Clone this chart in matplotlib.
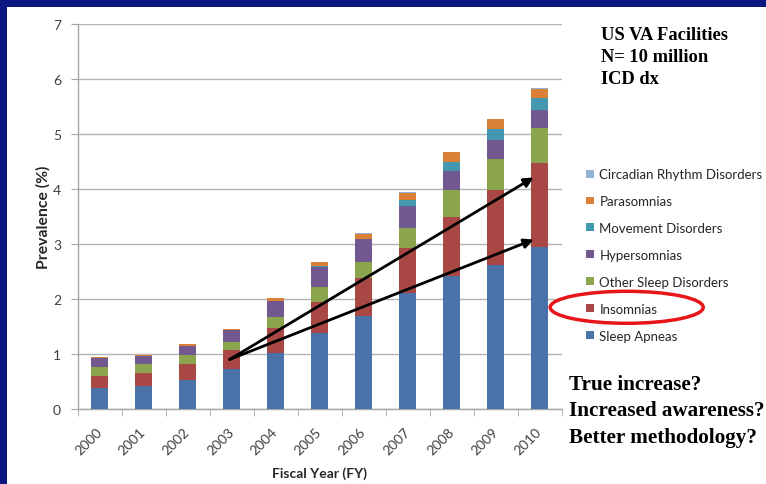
import numpy as np
import matplotlib
matplotlib.use("Agg")
import matplotlib.pyplot as plt
from matplotlib.patches import Rectangle, Ellipse, Patch

plt.rcParams['font.family'] = ['Lato', 'DejaVu Sans']

years = ["2000", "2001", "2002", "2003", "2004", "2005",
         "2006", "2007", "2008", "2009", "2010"]

# prevalence (%) per category, bottom to top of the stack
sleep_apneas = [0.38, 0.41, 0.53, 0.73, 1.02, 1.39, 1.70, 2.11, 2.41, 2.62, 2.95]
insomnias = [0.22, 0.24, 0.29, 0.34, 0.46, 0.56, 0.68, 0.82, 1.08, 1.36, 1.52]
other_sleep = [0.16, 0.16, 0.17, 0.15, 0.19, 0.26, 0.29, 0.36, 0.49, 0.57, 0.64]
hypersomnias = [0.17, 0.16, 0.16, 0.21, 0.29, 0.38, 0.42, 0.41, 0.35, 0.35, 0.33]
movement = [0.00, 0.00, 0.00, 0.00, 0.00, 0.01, 0.01, 0.10, 0.17, 0.20, 0.21]
parasomnias = [0.02, 0.02, 0.03, 0.02, 0.05, 0.07, 0.09, 0.13, 0.17, 0.17, 0.17]
circadian = [0.00, 0.00, 0.00, 0.00, 0.00, 0.00, 0.01, 0.01, 0.01, 0.01, 0.01]

series = [
    ("Sleep Apneas", sleep_apneas, "#4A72A8"),
    ("Insomnias", insomnias, "#A94744"),
    ("Other Sleep Disorders", other_sleep, "#8BA54F"),
    ("Hypersomnias", hypersomnias, "#71588F"),
    ("Movement Disorders", movement, "#4198AF"),
    ("Parasomnias", parasomnias, "#DA8137"),
    ("Circadian Rhythm Disorders", circadian, "#95B3D7"),
]

W, H = 766, 485
fig = plt.figure(figsize=(W / 100, H / 100), dpi=100)
fig.patch.set_facecolor("#0B1780")
# white slide content area
fig.patches.append(Rectangle((7 / W, 0), 1 - 7 / W, 1 - 8 / H, transform=fig.transFigure,
                             facecolor="white", edgecolor="none", zorder=-5))

ax = fig.add_axes([77.7 / W, 1 - 410 / H, 484 / W, 385 / H])
ax.set_facecolor("white")

x = np.arange(len(years))
bottom = np.zeros(len(years))
handles = []
for name, vals, color in series:
    ax.bar(x, vals, 0.39, bottom=bottom, color=color, edgecolor="none", zorder=3)
    bottom += np.array(vals)
    handles.append(Patch(facecolor=color, edgecolor="none", label=name))

ax.set_xlim(-0.5, len(years) - 0.5)
ax.set_ylim(0, 7)
ax.set_yticks(range(0, 8))
ax.grid(axis="y", color="#B3B3B3", lw=1, zorder=1)
ax.set_axisbelow(True)
for s in ["top", "right"]:
    ax.spines[s].set_visible(False)
for s in ["left", "bottom"]:
    ax.spines[s].set_color("#A6A6A6")
    ax.spines[s].set_linewidth(1)

ax.set_xticks(x)
ax.set_xticklabels(years, rotation=45, ha="right", va="center", rotation_mode="anchor")
ax.set_xticks(np.arange(-0.5, len(years)), minor=True)
ax.tick_params(axis="x", which="major", length=0, pad=15, labelsize=10, labelcolor="#404040")
ax.tick_params(axis="x", which="minor", length=5, color="#A6A6A6")
ax.tick_params(axis="y", length=5, color="#A6A6A6", labelsize=10, labelcolor="#404040", pad=7)

ax.set_ylabel("Prevalence (%)", fontsize=11.3, fontweight="bold", color="#262626")
ax.yaxis.set_label_coords(-0.057, 0.5)
ax.set_xlabel("Fiscal Year (FY)", fontsize=10, fontweight="bold", color="#262626", labelpad=7)

# arrows from 2003 toward 2010
arrow = dict(arrowstyle="-|>", color="black", lw=2, mutation_scale=14, shrinkA=0, shrinkB=0)
ax.annotate("", xy=(9.86, 4.21), xytext=(2.95, 0.90), arrowprops=arrow, zorder=5)
ax.annotate("", xy=(9.86, 3.08), xytext=(2.95, 0.90), arrowprops=arrow, zorder=5)

leg = fig.legend(handles=handles[::-1], loc="upper left", bbox_to_anchor=(581 / W, 1 - 164 / H),
                 frameon=False, fontsize=9.5, handlelength=0.55, handleheight=0.55,
                 handletextpad=0.45, labelspacing=1.13, borderaxespad=0)
for t in leg.get_texts():
    t.set_color("#262626")

fig.patches.append(Ellipse((626.7 / W, 1 - 308.3 / H), 153 / W, 32 / H, transform=fig.transFigure,
                           facecolor="none", edgecolor="#E8161B", lw=2.5, zorder=6))

serif = ["Liberation Serif", "DejaVu Serif"]
fig.text(601 / W, 1 - 27 / H, "US VA Facilities\nN= 10 million\nICD dx", family=serif,
         fontweight="bold", fontsize=13.3, va="top", ha="left", linespacing=1.39)
fig.text(569 / W, 1 - 375 / H, "True increase?\nIncreased awareness?\nBetter methodology?",
         family=serif, fontweight="bold", fontsize=15.2, va="top", ha="left", linespacing=1.42)

fig.savefig("out.png", dpi=100, facecolor=fig.get_facecolor())
